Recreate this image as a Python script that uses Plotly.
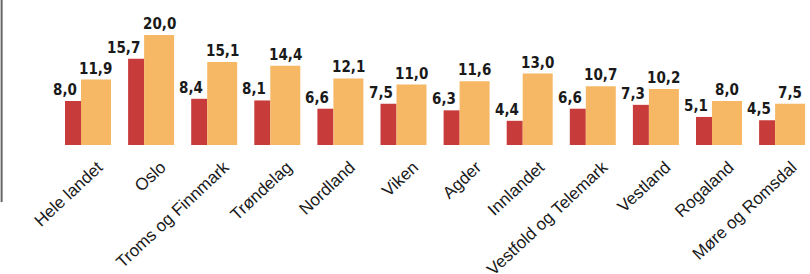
import plotly.graph_objects as go

categories = ["Hele landet", "Oslo", "Troms og Finnmark", "Trøndelag", "Nordland", "Viken",
              "Agder", "Innlandet", "Vestfold og Telemark", "Vestland", "Rogaland", "Møre og Romsdal"]
series_red = [8.0, 15.7, 8.4, 8.1, 6.6, 7.5, 6.3, 4.4, 6.6, 7.3, 5.1, 4.5]
series_orange = [11.9, 20.0, 15.1, 14.4, 12.1, 11.0, 11.6, 13.0, 10.7, 10.2, 8.0, 7.5]

RED = "#c73b3b"
ORANGE = "#f6b864"
W = 810
H = 274
unit_px = 63.1
red_off, red_w = -0.3645, 0.2536
or_off, or_w = -0.111, 0.4754

def fmt(v):
    return f"{v:.1f}".replace(".", ",")

fig = go.Figure()
fig.add_trace(go.Bar(x=categories, y=series_red, marker_color=RED, marker_line_width=0,
                     offset=red_off, width=red_w, hoverinfo="skip"))
fig.add_trace(go.Bar(x=categories, y=series_orange, marker_color=ORANGE, marker_line_width=0,
                     offset=or_off, width=or_w, hoverinfo="skip"))

num_font = dict(family="DejaVu Sans Condensed, sans-serif", size=15, color="#1a1a1a")
for c, r, o in zip(categories, series_red, series_orange):
    fig.add_annotation(x=c, y=r, text=f"<b>{fmt(r)}</b>", showarrow=False, xanchor="right", yanchor="bottom",
                       xshift=(red_off + red_w) * unit_px - 2, yshift=0, font=num_font)
    fig.add_annotation(x=c, y=o, text=f"<b>{fmt(o)}</b>", showarrow=False, xanchor="center", yanchor="bottom",
                       xshift=(or_off + or_w / 2) * unit_px, yshift=0, font=num_font)

x0 = -88 / unit_px
x1 = x0 + W / unit_px
fig.update_layout(
    width=W, height=H, margin=dict(l=0, r=0, t=0, b=129, pad=0),
    paper_bgcolor="white", plot_bgcolor="white",
    barmode="overlay", showlegend=False,
    xaxis=dict(type="category", range=[x0, x1], showgrid=False, zeroline=False, showline=False,
               automargin=False,
               ticks="", tickangle=-43, ticklabelshift=10, ticklabelstandoff=8,
               tickfont=dict(family="Liberation Sans, Arial, sans-serif", size=17, color="#1a1a1a")),
    yaxis=dict(range=[0, 145 / 5.5], visible=False, automargin=False),
    shapes=[dict(type="line", xref="paper", yref="paper", x0=0.002, x1=0.002, y0=1, y1=(H - 202 - 129) / 145,
                 line=dict(color="#666", width=2))],
)
fig.write_html("out.html", config={"displayModeBar": False},
               post_script="document.body.style.margin='0';document.body.style.overflow='hidden';")
